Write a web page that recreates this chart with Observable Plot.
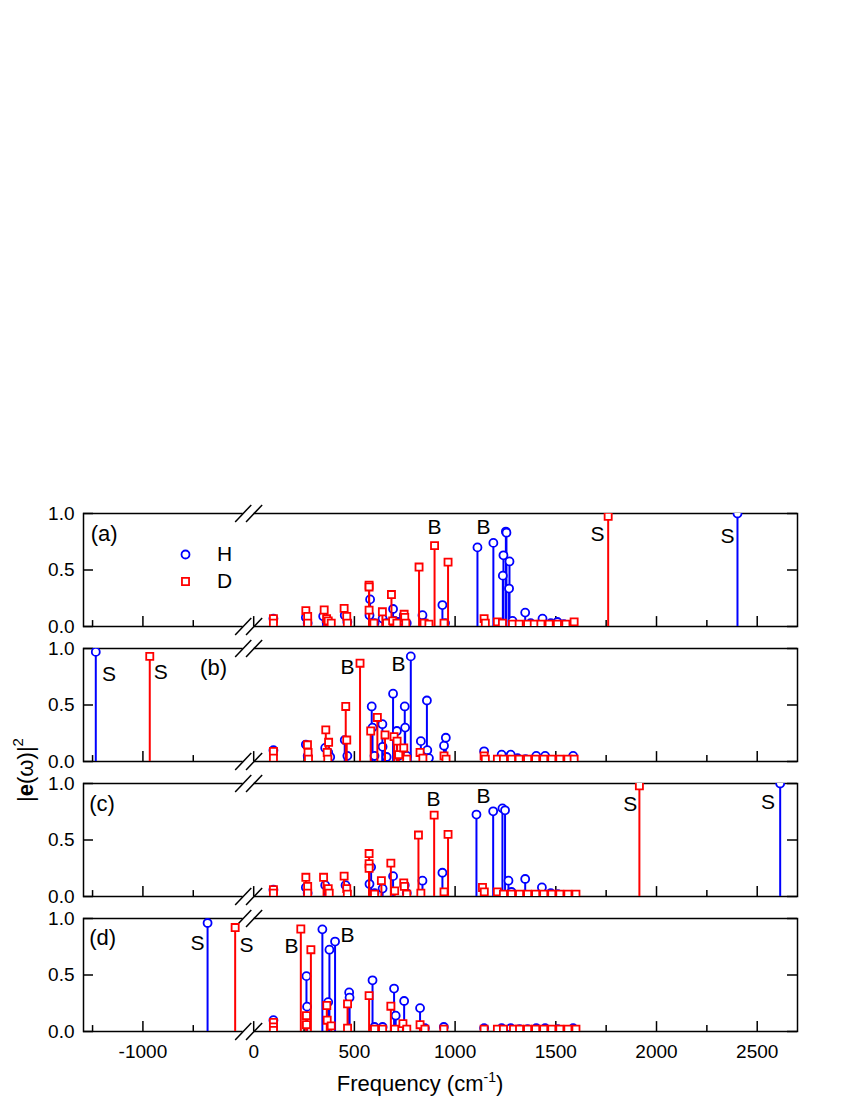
<!DOCTYPE html>
<html><head><meta charset="utf-8">
<script src="https://cdn.jsdelivr.net/npm/d3@7"></script>
<script src="https://cdn.jsdelivr.net/npm/@observablehq/plot@0.6"></script>
<style>html,body{margin:0;padding:0;background:#fff;overflow:hidden}</style>
</head><body><div id="chart"></div>
<script>
// ---------------- data ----------------
const panels = ["a", "b", "c", "d"];

// Panel (a): H (blue circles) and D (red squares) — frequency (cm-1), |e(w)|^2
const freqH_a = [98, 259, 268, 345, 362, 380, 452, 465, 575, 578, 600, 640, 660, 692, 700, 720, 745, 760, 838, 850, 937, 950, 1111, 1190, 1237, 1240, 1252, 1255, 1268, 1270, 1285, 1348, 1375, 1434, 1475, 1508, 1540, 2402];
const ampH_a  = [0.07, 0.08, 0.03, 0.09, 0.04, 0.03, 0.10, 0.04, 0.10, 0.24, 0.03, 0.07, 0.03, 0.155, 0.05, 0.04, 0.10, 0.03, 0.10, 0.03, 0.19, 0.03, 0.70, 0.74, 0.45, 0.63, 0.84, 0.83, 0.336, 0.576, 0.05, 0.123, 0.03, 0.07, 0.03, 0.04, 0.02, 1.0];
const freqD_a = [98, 98, 259, 268, 268, 350, 362, 370, 385, 449, 462, 465, 573, 573, 573, 597, 639, 660, 684, 690, 711, 747, 750, 755, 821, 846, 870, 898, 945, 965, 1144, 1150, 1210, 1235, 1285, 1318, 1360, 1393, 1426, 1467, 1508, 1550, 1591, 1760];
const ampD_a  = [0.07, 0.03, 0.14, 0.09, 0.03, 0.146, 0.07, 0.05, 0.03, 0.16, 0.09, 0.03, 0.365, 0.35, 0.145, 0.03, 0.13, 0.03, 0.283, 0.05, 0.03, 0.108, 0.08, 0.03, 0.526, 0.03, 0.02, 0.716, 0.03, 0.57, 0.07, 0.03, 0.04, 0.03, 0.02, 0.02, 0.02, 0.02, 0.02, 0.02, 0.02, 0.02, 0.04, 0.975];

// Panel (b)
const freqH_b = [-1234, 98, 259, 268, 355, 370, 380, 452, 465, 586, 590, 600, 639, 640, 660, 692, 711, 720, 750, 752, 760, 780, 830, 860, 862, 870, 945, 954, 1144, 1231, 1276, 1310, 1350, 1403, 1447, 1586];
const ampH_b  = [0.97, 0.10, 0.15, 0.05, 0.12, 0.08, 0.04, 0.19, 0.05, 0.487, 0.30, 0.05, 0.33, 0.13, 0.04, 0.60, 0.27, 0.05, 0.487, 0.30, 0.05, 0.93, 0.18, 0.54, 0.10, 0.03, 0.14, 0.21, 0.09, 0.06, 0.06, 0.03, 0.02, 0.05, 0.05, 0.05];
const freqD_b = [-966, 98, 98, 267, 270, 272, 358, 365, 368, 372, 457, 462, 528, 581, 614, 652, 697, 712, 720, 745, 760, 826, 840, 945, 955, 1144, 1150, 1210, 1240, 1280, 1318, 1360, 1400, 1440, 1480, 1520, 1560, 1591];
const ampD_b  = [0.93, 0.09, 0.03, 0.148, 0.08, 0.02, 0.28, 0.08, 0.02, 0.17, 0.487, 0.19, 0.87, 0.27, 0.39, 0.235, 0.22, 0.18, 0.06, 0.12, 0.02, 0.08, 0.03, 0.05, 0.02, 0.05, 0.02, 0.02, 0.02, 0.02, 0.02, 0.02, 0.02, 0.02, 0.02, 0.02, 0.02, 0.02];

// Panel (c)
const freqH_c = [98, 259, 268, 355, 370, 456, 575, 583, 600, 640, 692, 750, 760, 838, 937, 1106, 1189, 1235, 1248, 1265, 1280, 1348, 1431, 1475, 1510, 2614];
const ampH_c  = [0.06, 0.08, 0.03, 0.10, 0.04, 0.10, 0.11, 0.26, 0.03, 0.07, 0.18, 0.10, 0.03, 0.14, 0.21, 0.725, 0.754, 0.78, 0.763, 0.14, 0.04, 0.155, 0.08, 0.03, 0.02, 1.0];
const freqD_c = [98, 98, 259, 268, 268, 347, 370, 375, 449, 462, 465, 573, 573, 573, 600, 634, 681, 700, 745, 748, 760, 818, 830, 896, 945, 965, 1136, 1145, 1210, 1240, 1280, 1320, 1360, 1400, 1440, 1480, 1520, 1560, 1600, 1915];
const ampD_c  = [0.06, 0.03, 0.17, 0.09, 0.03, 0.17, 0.07, 0.03, 0.18, 0.07, 0.02, 0.38, 0.29, 0.25, 0.02, 0.14, 0.295, 0.05, 0.12, 0.09, 0.02, 0.544, 0.03, 0.72, 0.04, 0.55, 0.08, 0.04, 0.04, 0.02, 0.02, 0.02, 0.02, 0.02, 0.02, 0.02, 0.02, 0.02, 0.02, 0.98];

// Panel (d)
const freqH_d = [-679, 98, 262, 265, 341, 370, 376, 404, 474, 476, 590, 600, 640, 697, 705, 747, 826, 850, 944, 1144, 1231, 1276, 1320, 1360, 1403, 1447, 1510, 1586];
const ampH_d  = [0.96, 0.10, 0.49, 0.22, 0.904, 0.26, 0.724, 0.796, 0.346, 0.30, 0.453, 0.04, 0.04, 0.38, 0.14, 0.27, 0.207, 0.03, 0.04, 0.03, 0.03, 0.03, 0.02, 0.02, 0.03, 0.03, 0.02, 0.03];
const freqD_d = [-542, 98, 98, 98, 234, 262, 262, 284, 363, 365, 385, 466, 466, 573, 600, 640, 681, 700, 741, 760, 826, 850, 944, 1144, 1210, 1240, 1290, 1320, 1360, 1400, 1440, 1480, 1520, 1560, 1600];
const ampD_d  = [0.92, 0.08, 0.04, 0.01, 0.907, 0.14, 0.06, 0.724, 0.23, 0.10, 0.05, 0.244, 0.03, 0.317, 0.02, 0.02, 0.224, 0.02, 0.07, 0.02, 0.06, 0.02, 0.02, 0.02, 0.02, 0.02, 0.02, 0.02, 0.02, 0.02, 0.02, 0.02, 0.02, 0.02, 0.02];

// Peak annotations
const labelPanel = ["a", "a", "a", "a", "b", "b", "b", "b", "c", "c", "c", "c", "d", "d", "d", "d"];
const labelText  = ["B", "B", "S", "S", "S", "S", "B", "B", "B", "B", "S", "S", "S", "S", "B", "B"];
const labelFreq  = [898, 1141, 1707, 2352, -1168, -911, 466, 719, 893, 1141, 1869, 2554, -729, -36, 188, 466];
const labelAmp   = [0.877, 0.877, 0.82, 0.80, 0.775, 0.79, 0.83, 0.86, 0.857, 0.886, 0.82, 0.836, 0.78, 0.765, 0.75, 0.85];

// Panel tags
const panelText = ["(a)", "(b)", "(c)", "(d)"];
const panelFreq = [-1259, -716, -1267, -1267];
const panelAmp  = [0.816, 0.83, 0.823, 0.83];

// Axis ticks
const xMajor = [-1000, 0, 500, 1000, 1500, 2000, 2500];
const xMinor = [-1250, -750, 250, 750, 1250, 1750, 2250];
const yTicks = [0, 0.5, 1.0];

// --------------- build ---------------
const BLUE = "#0000ff", RED = "#ff0000";
// broken axis: values below -500 are shifted right by 450 (gap -500..-50 removed)
const brk = f => (f <= -500 ? f + 450 : f);
const X0 = -845, X1 = 2700;

function rows(p, freqs, amps) { return freqs.map((f, i) => ({p, f, v: amps[i]})); }
const H = [].concat(rows("a", freqH_a, ampH_a), rows("b", freqH_b, ampH_b), rows("c", freqH_c, ampH_c), rows("d", freqH_d, ampH_d));
const D = [].concat(rows("a", freqD_a, ampD_a), rows("b", freqD_b, ampD_b), rows("c", freqD_c, ampD_c), rows("d", freqD_d, ampD_d));
const labels = labelText.map((t, i) => ({p: labelPanel[i], t, f: labelFreq[i], v: labelAmp[i]}));
const tags = panelText.map((t, i) => ({p: panels[i], t, f: panelFreq[i], v: panelAmp[i]}));

const bandPx = 114.2, pxPerUnit = 0.2014;
const majLen = 10 / bandPx, minLen = 6 / bandPx, yTickLen = 10 / pxPerUnit;
const breakCenters = [-52, 2];
const slashes = [];
for (const c of breakCenters) for (const e of [0, 1]) slashes.push({x1: c - 40, x2: c + 40, y1: e - 0.076, y2: e + 0.076});

const svg = Plot.plot({
  width: 850, height: 1100,
  marginLeft: 83, marginRight: 53, marginTop: 511, marginBottom: 67,
  style: {fontFamily: "'Liberation Sans', Arial, sans-serif", fontSize: "19px", background: "white", color: "black"},
  x: {domain: [X0, X1], axis: null},
  y: {domain: [0, 1], axis: null},
  fy: {domain: panels, axis: null, paddingInner: 0.16, paddingOuter: 0},
  marks: [
    Plot.frame({stroke: "black", strokeWidth: 1.5}),
    Plot.rect([0, 1], {x1: () => breakCenters[0], x2: () => breakCenters[1], y1: d => d - 0.03, y2: d => d + 0.03, fill: "white"}),
    Plot.ruleX(xMajor, {x: d => brk(d), y1: () => 0, y2: () => majLen, stroke: "black", strokeWidth: 1.5}),
    Plot.ruleX(xMinor, {x: d => brk(d), y1: () => 0, y2: () => minLen, stroke: "black", strokeWidth: 1.5}),
    Plot.ruleY(yTicks, {y: d => d, x1: () => X0, x2: () => X0 + yTickLen, stroke: "black", strokeWidth: 1.5}),
    Plot.ruleY(yTicks, {y: d => d, x1: () => X1 - yTickLen, x2: () => X1, stroke: "black", strokeWidth: 1.5}),
    Plot.link(slashes, {x1: "x1", y1: "y1", x2: "x2", y2: "y2", stroke: "black", strokeWidth: 1.5}),
    // H series
    Plot.ruleX(H, {x: d => brk(d.f), y1: () => 0, y2: "v", fy: "p", stroke: BLUE, strokeWidth: 2}),
    Plot.dot(H, {x: d => brk(d.f), y: "v", fy: "p", symbol: "circle", r: 4, stroke: BLUE, fill: "white", strokeWidth: 1.8, clip: true}),
    // D series
    Plot.ruleX(D, {x: d => brk(d.f), y1: () => 0, y2: "v", fy: "p", stroke: RED, strokeWidth: 2}),
    Plot.dot(D, {x: d => brk(d.f), y: "v", fy: "p", symbol: "square", r: 4, stroke: RED, fill: "white", strokeWidth: 1.8, clip: true}),
    // annotations
    Plot.text(labels, {x: d => brk(d.f), y: "v", fy: "p", text: "t", fontSize: 21, textAnchor: "middle", lineAnchor: "middle"}),
    Plot.text(tags, {x: d => brk(d.f), y: "v", fy: "p", text: "t", fontSize: 22, textAnchor: "start", lineAnchor: "middle"}),
    // legend in panel (a)
    Plot.dot([{p: "a"}], {fy: "p", frameAnchor: "top-left", dx: 102, dy: 41, symbol: "circle", r: 4, stroke: BLUE, fill: "white", strokeWidth: 1.8}),
    Plot.dot([{p: "a"}], {fy: "p", frameAnchor: "top-left", dx: 102, dy: 68, symbol: "square", r: 4, stroke: RED, fill: "white", strokeWidth: 1.8}),
    Plot.text([{p: "a", t: "H"}], {fy: "p", frameAnchor: "top-left", dx: 141, dy: 41, text: "t", fontSize: 21, textAnchor: "middle", lineAnchor: "middle"}),
    Plot.text([{p: "a", t: "D"}], {fy: "p", frameAnchor: "top-left", dx: 141, dy: 68, text: "t", fontSize: 21, textAnchor: "middle", lineAnchor: "middle"}),
    // axis tick labels
    Plot.text(yTicks, {y: d => d, text: d => d.toFixed(1), frameAnchor: "left", dx: -9, textAnchor: "end", lineAnchor: "middle", fontSize: 19}),
    Plot.text(xMajor.map(t => ({p: "d", t})), {x: d => brk(d.t), fy: "p", text: d => String(d.t), frameAnchor: "bottom", dy: 13, lineAnchor: "top", fontSize: 19})
  ]
});

const s = d3.select(svg);
// y axis title |e(w)|^2
const yt = s.append("text")
  .attr("transform", "translate(27,770) rotate(-90)")
  .attr("text-anchor", "middle")
  .attr("dominant-baseline", "middle")
  .attr("font-family", "'Liberation Sans', Arial, sans-serif")
  .attr("font-size", 22)
  .attr("fill", "black");
yt.append("tspan").text("|");
yt.append("tspan").attr("font-weight", "bold").text("e");
yt.append("tspan").text("(\u03c9)|");
yt.append("tspan").attr("dy", -8).attr("font-size", 15).text("2");

// x axis title
const xt = s.append("text")
  .attr("x", 420).attr("y", 1091)
  .attr("text-anchor", "middle")
  .attr("font-family", "'Liberation Sans', Arial, sans-serif")
  .attr("font-size", 22)
  .attr("fill", "black");
xt.append("tspan").text("Frequency (cm");
xt.append("tspan").attr("dy", -9).attr("font-size", 14).text("-1");
xt.append("tspan").attr("dy", 9).text(")");

document.getElementById("chart").appendChild(svg);
</script>
</body></html>
